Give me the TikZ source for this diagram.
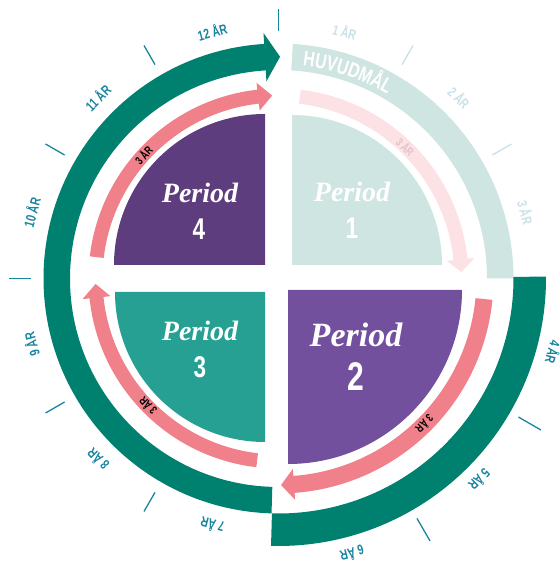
\documentclass[tikz,border=0pt]{standalone}
\usepackage{fontspec}
\usetikzlibrary{decorations.text}
\newfontfamily\condfont[FakeStretch=0.75]{Liberation Sans}
\newfontfamily\periodfont{Liberation Serif}
\definecolor{darkgreen}{RGB}{0,128,110}
\definecolor{palegreen}{RGB}{206,229,225}
\definecolor{pinkarrow}{RGB}{240,128,138}
\definecolor{palepink}{RGB}{252,226,229}
\definecolor{fadetext}{RGB}{222,196,198}
\definecolor{purpledark}{RGB}{94,61,126}
\definecolor{purplemid}{RGB}{114,80,157}
\definecolor{tealq}{RGB}{38,160,146}
\definecolor{tickblue}{RGB}{26,132,160}
\definecolor{paleblue}{RGB}{200,225,232}
\tikzset{
    yrtick/.style={line width=1.3pt, tickblue},
    yrlabel/.style={font=\condfont\bfseries\fontsize{14}{14}\selectfont, text=tickblue, inner sep=0pt},
    arrlabel/.style={font=\condfont\bfseries\fontsize{11.5}{11.5}\selectfont, inner sep=0pt},
    periodtxt/.style={font=\periodfont\bfseries\itshape\fontsize{28}{28}\selectfont, text=white, inner sep=0pt},
    periodnum/.style={font=\condfont\bfseries\fontsize{30}{30}\selectfont, text=white, inner sep=0pt}
}
% colour, inner r, outer r, start, head base, tip, head overhang
\newcommand\bandarrow[7]{%
    \fill[#1] (#4:#2) arc[start angle=#4, end angle=#5, radius=#2]
        -- ({#5}:{#2-#7}) -- ({#6}:{(#2+#3)/2}) -- ({#5}:{#3+#7})
        -- (#5:#3) arc[start angle=#5, end angle=#4, radius=#3] -- cycle;}
\begin{document}
\begin{tikzpicture}[x=1pt, y=1pt]
                \useasboundingbox (-278.5,-288.5) rectangle (280.5,278.5);
                % the four periods
                \fill[palegreen] (13.5,13.5) -- ++(0,150) arc[start angle=90, end angle=0, radius=150] -- cycle;
                \fill[purplemid] (9.5,-11.5) -- ++(174,0) arc[start angle=0, end angle=-90, radius=174] -- cycle;
                \fill[tealq] (-13.5,-13.5) -- ++(0,-150) arc[start angle=270, end angle=180, radius=150] -- cycle;
                \fill[purpledark] (-13.5,13.5) -- ++(-151,0) arc[start angle=180, end angle=90, radius=151] -- cycle;
                % outer bands
                \fill[palegreen] (86.5:208.5) arc[start angle=86.5, end angle=0, radius=208.5]
                    -- (0:235) arc[start angle=0, end angle=86.5, radius=235] -- cycle;
                \fill[darkgreen] (0.4:235) arc[start angle=0.4, end angle=-91.6, radius=235]
                    -- (-91.6:267.5) arc[start angle=-91.6, end angle=0.4, radius=267.5] -- cycle;
                \bandarrow{darkgreen}{208.5}{235}{268.3}{93.5}{89.6}{11}
                % inner arrows
                \bandarrow{palepink}{176}{190}{83.3}{6}{2}{7}
                \bandarrow{pinkarrow}{198}{215}{-5.7}{-85.7}{-89.3}{7}
                \bandarrow{pinkarrow}{176}{190}{263.3}{186}{181.7}{7}
                \bandarrow{pinkarrow}{176}{190}{173.3}{96.4}{92}{7}
                \path[decorate, decoration={text along path,
                    text={|\condfont\bfseries\fontsize{21}{21}\selectfont\color{white}|HUVUDMÅL}}]
                    (83.5:214) arc[start angle=83.5, end angle=40, radius=214];
                % ticks
                \foreach \a in {90,120,...,240}
                    \draw[yrtick] (\a:247) -- (\a:269);
                \foreach \a in {30,60}
                    \draw[yrtick, paleblue] (\a:247) -- (\a:269);
                \foreach \a in {-30,-60}
                    \draw[yrtick] (\a:277) -- (\a:303);
                % years
                \foreach \n/\a in {1/75,2/45,3/15}
                    \node[yrlabel, text=paleblue, rotate=\a-90] (yr\n) at (\a:256) {\n\ ÅR};
                \foreach \n/\a in {4/-15,5/-45,6/-75}
                    \node[yrlabel, rotate=\a-90] (yr\n) at (\a:285) {\n\ ÅR};
                \foreach \n/\a in {7/255,8/225,9/195,10/165,11/135,12/105}
                    \node[yrlabel, rotate=\a-90] (yr\n) at (\a:256) {\n\ ÅR};
                \node[arrlabel, text=fadetext, rotate=-44] (span1) at (46:183) {3 ÅR};
                \node[arrlabel, rotate=-134.8] (span2) at (-44.8:206.5) {3 ÅR};
                \node[arrlabel, rotate=134.3] (span3) at (224.3:183) {3 ÅR};
                \node[arrlabel, rotate=47.6] (span4) at (137.6:183) {3 ÅR};
                % period names
                \node[periodtxt] (per1) at (73.5,86.5) {Period};
                \node[periodnum] (num1) at (73.5,50.5) {1};
                \node[periodtxt, font=\periodfont\bfseries\itshape\fontsize{34}{34}\selectfont] (per2) at (77.5,-56.5) {Period};
                \node[periodnum, font=\condfont\bfseries\fontsize{40}{40}\selectfont] (num2) at (77.5,-98.5) {2};
                \node[periodtxt] (per3) at (-78.5,-52.5) {Period};
                \node[periodnum] (num3) at (-78.5,-88.5) {3};
                \node[periodtxt] (per4) at (-78.5,85.5) {Period};
                \node[periodnum] (num4) at (-79.5,49.5) {4};
\end{tikzpicture}
\end{document}
